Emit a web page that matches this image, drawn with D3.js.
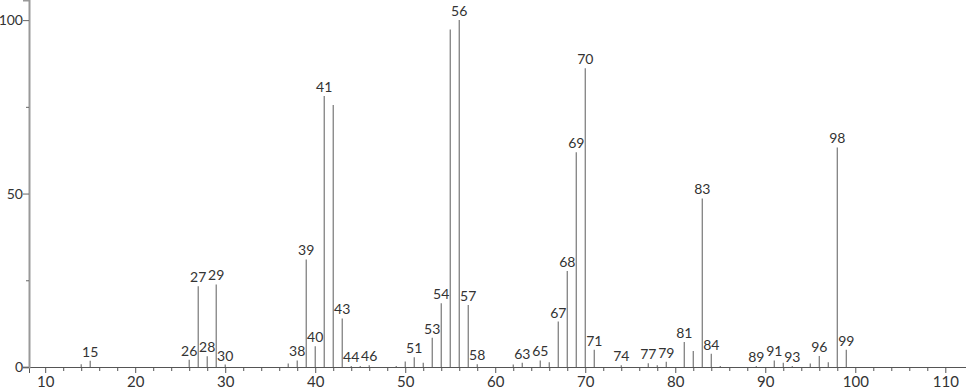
<!DOCTYPE html>
<html>
<head>
<meta charset="utf-8">
<script src="https://cdn.jsdelivr.net/npm/d3@7"></script>
<style>
  html, body { margin: 0; padding: 0; background: #fff; }
  text { font-family: "Lato", "DejaVu Sans", sans-serif; }
</style>
</head>
<body>
<div id="chart"></div>
<script>
// m/z of each peak and its relative intensity (%)
const mz = [14, 15, 26, 27, 28, 29, 30, 37, 38, 39, 40, 41, 42, 43, 44, 45, 46, 49, 50, 51,
            52, 53, 54, 55, 56, 57, 58, 62, 63, 65, 66, 67, 68, 69, 70, 71, 74, 77, 78, 79,
            81, 82, 83, 84, 85, 89, 91, 92, 93, 95, 96, 97, 98, 99];
const intensity = [0.8, 1.8, 2.1, 23.3, 3.1, 23.8, 0.7, 1.0, 1.9, 31.0, 6.0, 78.1, 75.5, 14.0, 0.3, 0.3, 0.5, 0.3, 1.6, 2.8,
                   1.2, 8.4, 18.4, 97.3, 100, 17.9, 0.8, 0.7, 1.2, 1.9, 1.4, 13.1, 27.7, 61.9, 86.1, 5.0, 0.5, 1.1, 0.5, 1.5,
                   7.2, 4.6, 48.6, 3.8, 0.3, 0.3, 1.9, 1.2, 0.3, 1.0, 3.2, 1.4, 63.3, 5.0];
// peaks that carry a label
const labelled = [15, 26, 27, 28, 29, 30, 38, 39, 40, 41, 43, 44, 46, 51, 53, 54, 56, 57, 58, 63,
                  65, 67, 68, 69, 70, 71, 74, 77, 79, 81, 83, 84, 89, 91, 93, 96, 98, 99];
const xTicks = d3.range(10, 111, 2);
const yTicks = [0, 25, 50, 75, 100];

const width = 966;
const height = 389;

const x = d3.scaleLinear().domain([8.2, 112.3]).range([29, 966]);
const y = d3.scaleLinear().domain([0, 105.8]).range([367, 0]);

const peaks = mz.map((m, i) => ({ mz: m, v: intensity[i] }));

const svg = d3.select("#chart")
  .append("svg")
  .attr("width", width)
  .attr("height", height)
  .attr("viewBox", [0, 0, width, height]);

// peaks
svg.append("g")
  .selectAll("line")
  .data(peaks)
  .enter()
  .append("line")
  .attr("x1", d => x(d.mz))
  .attr("x2", d => x(d.mz))
  .attr("y1", y(0))
  .attr("y2", d => y(d.v))
  .attr("stroke", "#777")
  .attr("stroke-width", 1.2);

// peak labels
svg.append("g")
  .selectAll("text")
  .data(peaks.filter(d => labelled.includes(d.mz)))
  .enter()
  .append("text")
  .attr("x", d => x(d.mz))
  .attr("y", d => y(d.v) - 4)
  .attr("text-anchor", "middle")
  .attr("font-size", 14)
  .attr("fill", "#333")
  .text(d => d.mz);

// x axis
const xAxis = svg.append("g")
  .attr("transform", `translate(0,${y(0)})`)
  .call(d3.axisBottom(x)
    .tickValues(xTicks)
    .tickSizeOuter(0)
    .tickSize(6)
    .tickPadding(3)
    .tickFormat(d => d % 10 === 0 ? d : ""));
xAxis.select(".domain").attr("stroke", "#555");
xAxis.selectAll(".tick line")
  .attr("stroke", "#555")
  .attr("y2", d => d % 10 === 0 ? 6 : 4);
xAxis.selectAll(".tick text")
  .attr("font-size", 15)
  .attr("fill", "#333")
  .style("font-family", "\"Lato\", \"DejaVu Sans\", sans-serif");

// y axis
const yAxis = svg.append("g")
  .attr("transform", `translate(${x.range()[0]},0)`)
  .call(d3.axisLeft(y)
    .tickValues(yTicks)
    .tickSizeOuter(0)
    .tickSize(6)
    .tickPadding(0)
    .tickFormat(d => d % 50 === 0 ? d : ""));
yAxis.select(".domain").attr("stroke", "#999").attr("stroke-width", 2);
yAxis.selectAll(".tick line")
  .attr("stroke", "#666")
  .attr("x2", d => d % 50 === 0 ? -6 : -3);
yAxis.selectAll(".tick text")
  .attr("font-size", 14)
  .attr("fill", "#333")
  .style("font-family", "\"Lato\", \"DejaVu Sans\", sans-serif");
</script>
</body>
</html>
